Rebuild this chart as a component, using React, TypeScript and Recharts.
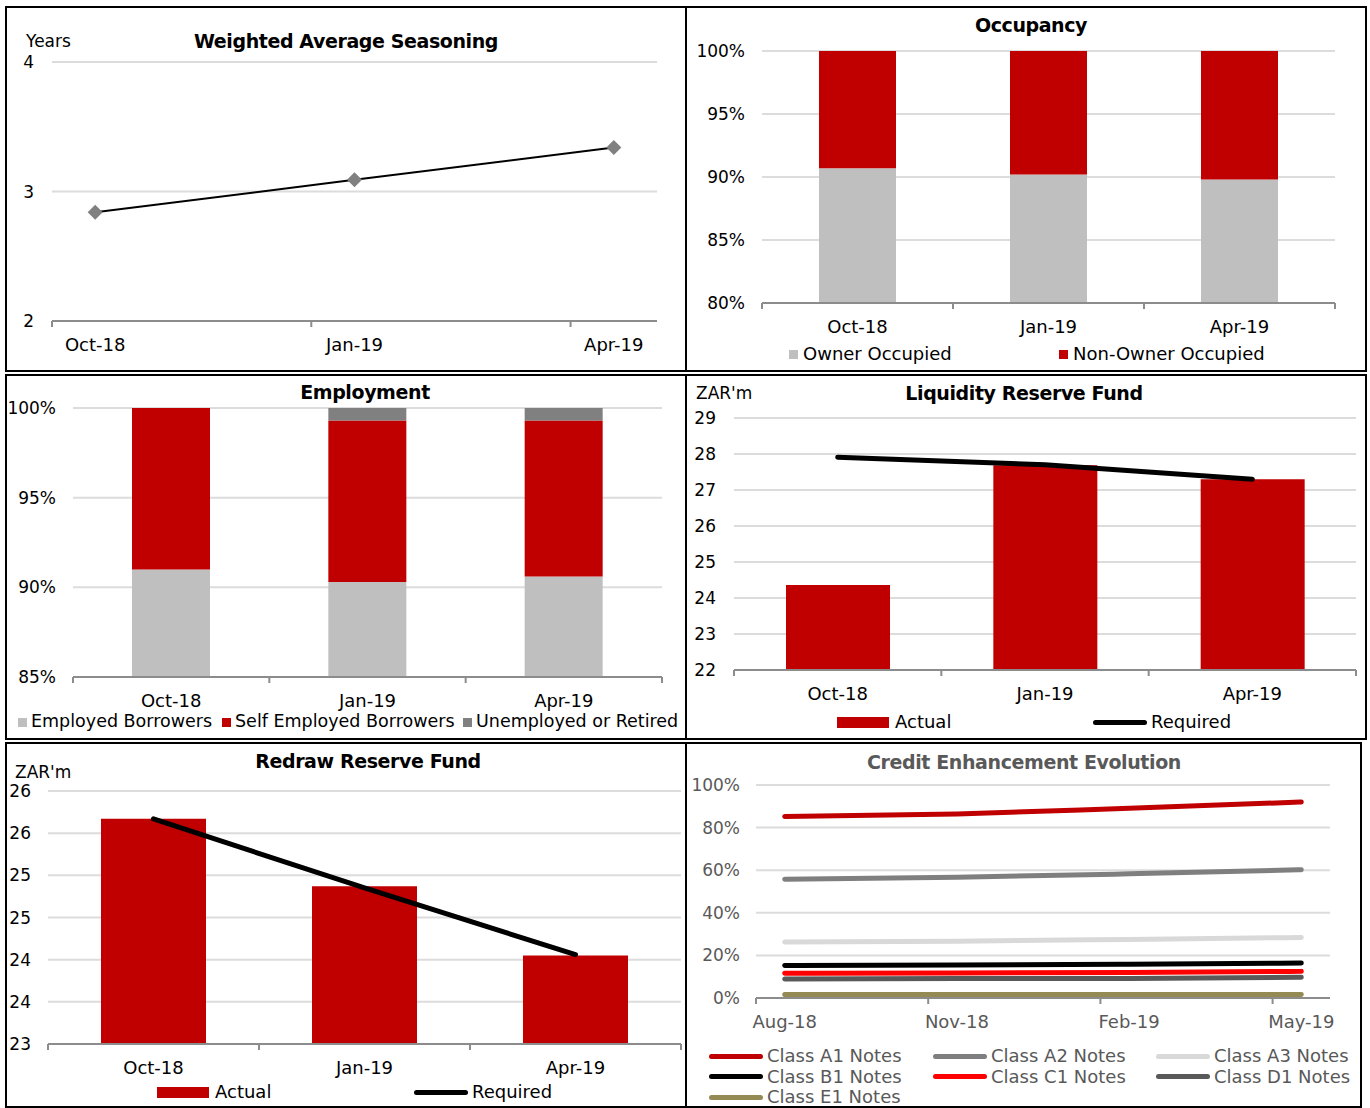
import React from 'react';
import { LineChart, Line, BarChart, Bar, ComposedChart, XAxis, YAxis, CartesianGrid } from 'recharts';

const FONT = "'DejaVu Sans', sans-serif";
const RED = '#c00000';
const LIGHT = '#bfbfbf';
const MID = '#808080';
const GRID = '#dcdcdc';
const AXIS = '#8c8c8c';
const DARK_TEXT = '#595959';
const LABEL_GAP = 17;

// Weighted average seasoning, in years
const wasDates = ['Oct-18', 'Jan-19', 'Apr-19'];
const wasMonths = [0, 3, 6];
const wasYears = [2.84, 3.09, 3.34];

// Reporting quarters for the pool stratifications
const quarters = ['Oct-18', 'Jan-19', 'Apr-19'];

// Occupancy (% of pool)
const ownerOccupied = [90.7, 90.2, 89.8];
const nonOwnerOccupied = [9.3, 9.8, 10.2];

// Employment (% of pool)
const employed = [91.0, 90.3, 90.6];
const selfEmployed = [9.0, 9.0, 8.7];
const unemployed = [0.0, 0.7, 0.7];

// Liquidity reserve fund, ZAR'm
const lrfActual = [24.36, 27.69, 27.3];
const lrfRequired = [27.91, 27.7, 27.3];

// Redraw reserve fund, ZAR'm
const rrfActual = [25.67, 24.87, 24.05];
const rrfRequired = [25.67, 24.85, 24.06];
const rrfTicks = [23, 23.5, 24, 24.5, 25, 25.5, 26];

// Credit enhancement per note class (%)
const ceDates = ['Aug-18', 'Nov-18', 'Feb-19', 'May-19'];
const ceMonths = [0, 3, 6, 9];
const ceA1 = [85.2, 86.4, 89.1, 92.0];
const ceA2 = [55.8, 56.7, 58.3, 60.2];
const ceA3 = [26.3, 26.7, 27.5, 28.4];
const ceB1 = [15.3, 15.5, 15.9, 16.4];
const ceC1 = [11.6, 11.7, 12.0, 12.5];
const ceD1 = [8.9, 9.1, 9.2, 9.7];
const ceE1 = [1.6, 1.6, 1.6, 1.7];

const ceSeries = [
  { key: 'a1', name: 'Class A1 Notes', color: RED, values: ceA1 },
  { key: 'a2', name: 'Class A2 Notes', color: '#7f7f7f', values: ceA2 },
  { key: 'a3', name: 'Class A3 Notes', color: '#d9d9d9', values: ceA3 },
  { key: 'b1', name: 'Class B1 Notes', color: '#000000', values: ceB1 },
  { key: 'c1', name: 'Class C1 Notes', color: '#ff0000', values: ceC1 },
  { key: 'd1', name: 'Class D1 Notes', color: '#595959', values: ceD1 },
  { key: 'e1', name: 'Class E1 Notes', color: '#948a54', values: ceE1 },
];

const wasData = wasMonths.map((m, i) => ({ m, years: wasYears[i] }));
const occData = quarters.map((date, i) => ({ date, owner: ownerOccupied[i], nonOwner: nonOwnerOccupied[i] }));
const empData = quarters.map((date, i) => ({
  date,
  employed: employed[i],
  selfEmployed: selfEmployed[i],
  unemployed: unemployed[i],
}));
const lrfData = quarters.map((date, i) => ({ date, actual: lrfActual[i], required: lrfRequired[i] }));
const rrfData = quarters.map((date, i) => ({ date, actual: rrfActual[i], required: rrfRequired[i] }));
const ceData = ceMonths.map((m, i) => {
  const row: Record<string, number> = { m };
  ceSeries.forEach((s) => (row[s.key] = s.values[i]));
  return row;
});

const axisLine = { stroke: AXIS, strokeWidth: 2 };
const yTick = (fill = '#000') => ({ fill, fontSize: 17, fontFamily: FONT });
const pct = (v: number) => `${v}%`;

// x-axis tick: label at the point, tick mark half a step to the left
// (and at the right edge too when the axis is a category band axis)
function makeTick(step: number, labels: string[] | null, fill: string, closeRight: boolean) {
  return (props: any) => {
    const { x, y, payload, index, visibleTicksCount } = props;
    const axisY = y - LABEL_GAP;
    const text = labels ? labels[index] : payload.value;
    return (
      <g>
        <line x1={x - step / 2} x2={x - step / 2} y1={axisY} y2={axisY + 6} stroke={AXIS} strokeWidth={2} />
        {closeRight && index === visibleTicksCount - 1 && (
          <line x1={x + step / 2} x2={x + step / 2} y1={axisY} y2={axisY + 6} stroke={AXIS} strokeWidth={2} />
        )}
        <text x={x} y={y} dy="0.71em" textAnchor="middle" fill={fill} fontSize={18} fontFamily={FONT}>
          {text}
        </text>
      </g>
    );
  };
}

function Panel({ left, top, width, height, children }: any) {
  return (
    <div style={{ position: 'absolute', left, top, width, height, boxSizing: 'border-box', border: '2px solid #000', background: '#fff' }}>
      <div style={{ position: 'absolute', left: -2, top: -2, width, height }}>{children}</div>
    </div>
  );
}

function Text({ x, y, children, center = false, bold = false, size = 18, color = '#000' }: any) {
  return (
    <div
      style={{
        position: 'absolute',
        left: x,
        top: y,
        transform: center ? 'translate(-50%, -50%)' : 'translate(0, -50%)',
        fontFamily: FONT,
        fontSize: size,
        fontWeight: bold ? 700 : 400,
        letterSpacing: bold ? -0.4 : 0,
        color,
        whiteSpace: 'nowrap',
        lineHeight: 1,
      }}
    >
      {children}
    </div>
  );
}

const Square = ({ x, y, color }: any) => (
  <div style={{ position: 'absolute', left: x, top: y - 4.5, width: 9, height: 9, background: color }} />
);
const BarSwatch = ({ x, y, color }: any) => (
  <div style={{ position: 'absolute', left: x, top: y - 5.5, width: 52, height: 11, background: color }} />
);
const LineSwatch = ({ x, y, color }: any) => (
  <div style={{ position: 'absolute', left: x, top: y - 2.5, width: 54, height: 5, borderRadius: 3, background: color }} />
);

const diamond = (props: any) => {
  const { cx, cy, index } = props;
  const r = 7.5;
  return <path key={index} d={`M${cx},${cy - r}L${cx + r},${cy}L${cx},${cy + r}L${cx - r},${cy}Z`} fill={MID} />;
};

export default function App() {
  return (
    <div style={{ position: 'absolute', left: 0, top: 0, width: 1370, height: 1108, background: '#fff' }}>
      {/* Weighted Average Seasoning */}
      <Panel left={5} top={6} width={682} height={366}>
        <LineChart width={682} height={366} data={wasData} margin={{ top: 56, right: 30, bottom: 21, left: 0 }}>
          <CartesianGrid vertical={false} stroke={GRID} strokeWidth={2} />
          <XAxis
            type="number"
            dataKey="m"
            domain={[-0.5, 6.5]}
            ticks={wasMonths}
            interval={0}
            height={30}
            tickLine={false}
            tickSize={0}
            tickMargin={LABEL_GAP}
            axisLine={axisLine}
            tick={makeTick(605 / 7, wasDates, '#000', false)}
          />
          <YAxis domain={[2, 4]} ticks={[2, 3, 4]} width={47} axisLine={false} tickLine={false} tickSize={0} tickMargin={18} tick={yTick()} />
          <Line dataKey="years" stroke="#000" strokeWidth={2} dot={diamond} isAnimationActive={false} />
        </LineChart>
        <Text x={21} y={35} size={17}>Years</Text>
        <Text x={341} y={35} center bold size={19}>Weighted Average Seasoning</Text>
      </Panel>

      {/* Occupancy */}
      <Panel left={685} top={6} width={682} height={366}>
        <BarChart width={682} height={366} data={occData} margin={{ top: 45, right: 32, bottom: 39, left: 0 }}>
          <CartesianGrid vertical={false} stroke={GRID} strokeWidth={2} />
          <XAxis dataKey="date" interval={0} height={30} tickLine={false} tickSize={0} tickMargin={LABEL_GAP} axisLine={axisLine} tick={makeTick(573 / 3, null, '#000', true)} />
          <YAxis domain={[80, 100]} ticks={[80, 85, 90, 95, 100]} allowDataOverflow width={77} axisLine={false} tickLine={false} tickSize={0} tickMargin={17} tickFormatter={pct} tick={yTick()} />
          <Bar dataKey="owner" stackId="occ" fill={LIGHT} barSize={77} isAnimationActive={false} />
          <Bar dataKey="nonOwner" stackId="occ" fill={RED} barSize={77} isAnimationActive={false} />
        </BarChart>
        <Text x={346} y={19} center bold size={19}>Occupancy</Text>
        <Square x={104} y={348} color={LIGHT} />
        <Text x={118} y={348}>Owner Occupied</Text>
        <Square x={374} y={348} color={RED} />
        <Text x={388} y={348}>Non-Owner Occupied</Text>
      </Panel>

      {/* Employment */}
      <Panel left={5} top={374} width={682} height={366}>
        <BarChart width={682} height={366} data={empData} margin={{ top: 34, right: 25, bottom: 33, left: 0 }}>
          <CartesianGrid vertical={false} stroke={GRID} strokeWidth={2} />
          <XAxis dataKey="date" interval={0} height={30} tickLine={false} tickSize={0} tickMargin={LABEL_GAP} axisLine={axisLine} tick={makeTick(589 / 3, null, '#000', true)} />
          <YAxis domain={[85, 100]} ticks={[85, 90, 95, 100]} allowDataOverflow width={68} axisLine={false} tickLine={false} tickSize={0} tickMargin={17} tickFormatter={pct} tick={yTick()} />
          <Bar dataKey="employed" stackId="emp" fill={LIGHT} barSize={78} isAnimationActive={false} />
          <Bar dataKey="selfEmployed" stackId="emp" fill={RED} barSize={78} isAnimationActive={false} />
          <Bar dataKey="unemployed" stackId="emp" fill={MID} barSize={78} isAnimationActive={false} />
        </BarChart>
        <Text x={360} y={18} center bold size={19}>Employment</Text>
        <Square x={13} y={348} color={LIGHT} />
        <Text x={26} y={348} size={17.5}>Employed Borrowers</Text>
        <Square x={217} y={348} color={RED} />
        <Text x={230} y={348} size={17.5}>Self Employed Borrowers</Text>
        <Square x={458} y={348} color={MID} />
        <Text x={471} y={348} size={17.5}>Unemployed or Retired</Text>
      </Panel>

      {/* Liquidity Reserve Fund */}
      <Panel left={685} top={374} width={682} height={366}>
        <ComposedChart width={682} height={366} data={lrfData} margin={{ top: 44, right: 11, bottom: 40, left: 0 }}>
          <CartesianGrid vertical={false} stroke={GRID} strokeWidth={2} />
          <XAxis dataKey="date" interval={0} height={30} tickLine={false} tickSize={0} tickMargin={LABEL_GAP} axisLine={axisLine} tick={makeTick(622 / 3, null, '#000', true)} />
          <YAxis domain={[22, 29]} ticks={[22, 23, 24, 25, 26, 27, 28, 29]} allowDataOverflow width={49} axisLine={false} tickLine={false} tickSize={0} tickMargin={18} tick={yTick()} />
          <Bar dataKey="actual" fill={RED} barSize={104} isAnimationActive={false} />
          <Line dataKey="required" type="linear" stroke="#000" strokeWidth={5} strokeLinecap="round" dot={false} isAnimationActive={false} />
        </ComposedChart>
        <Text x={11} y={19} size={17}>ZAR'm</Text>
        <Text x={339} y={19} center bold size={19}>Liquidity Reserve Fund</Text>
        <BarSwatch x={152} y={348} color={RED} />
        <Text x={210} y={348}>Actual</Text>
        <LineSwatch x={408} y={348} color="#000" />
        <Text x={466} y={348}>Required</Text>
      </Panel>

      {/* Redraw Reserve Fund */}
      <Panel left={5} top={742} width={682} height={366}>
        <ComposedChart width={682} height={366} data={rrfData} margin={{ top: 49, right: 6, bottom: 34, left: 0 }}>
          <CartesianGrid vertical={false} stroke={GRID} strokeWidth={2} />
          <XAxis dataKey="date" interval={0} height={30} tickLine={false} tickSize={0} tickMargin={LABEL_GAP} axisLine={axisLine} tick={makeTick(633 / 3, null, '#000', true)} />
          <YAxis domain={[23, 26]} ticks={rrfTicks} allowDataOverflow width={43} axisLine={false} tickLine={false} tickSize={0} tickMargin={17} tickFormatter={(v: number) => String(Math.round(v))} tick={yTick()} />
          <Bar dataKey="actual" fill={RED} barSize={105} isAnimationActive={false} />
          <Line dataKey="required" type="linear" stroke="#000" strokeWidth={5} strokeLinecap="round" dot={false} isAnimationActive={false} />
        </ComposedChart>
        <Text x={10} y={30} size={17}>ZAR'm</Text>
        <Text x={363} y={19} center bold size={19}>Redraw Reserve Fund</Text>
        <BarSwatch x={152} y={350} color={RED} />
        <Text x={210} y={350}>Actual</Text>
        <LineSwatch x={409} y={350} color="#000" />
        <Text x={467} y={350}>Required</Text>
      </Panel>

      {/* Credit Enhancement Evolution */}
      <Panel left={685} top={742} width={677} height={366}>
        <LineChart width={677} height={366} data={ceData} margin={{ top: 43, right: 32, bottom: 80, left: 0 }}>
          <CartesianGrid vertical={false} stroke={GRID} strokeWidth={2} />
          <XAxis
            type="number"
            dataKey="m"
            domain={[-0.5, 9.5]}
            ticks={ceMonths}
            interval={0}
            height={30}
            tickLine={false}
            tickSize={0}
            tickMargin={LABEL_GAP}
            axisLine={axisLine}
            tick={makeTick(574 / 10, ceDates, DARK_TEXT, false)}
          />
          <YAxis domain={[0, 100]} ticks={[0, 20, 40, 60, 80, 100]} width={71} axisLine={false} tickLine={false} tickSize={0} tickMargin={16} tickFormatter={pct} tick={yTick(DARK_TEXT)} />
          {ceSeries.map((s) => (
            <Line key={s.key} dataKey={s.key} type="monotone" stroke={s.color} strokeWidth={5} strokeLinecap="round" dot={false} isAnimationActive={false} />
          ))}
        </LineChart>
        <Text x={339} y={20} center bold size={19} color={DARK_TEXT}>Credit Enhancement Evolution</Text>
        {ceSeries.map((s, i) => {
          const col = i % 3;
          const row = Math.floor(i / 3);
          const lx = [24, 248, 471][col];
          const ly = 314 + row * 20.5;
          return (
            <React.Fragment key={s.key}>
              <LineSwatch x={lx} y={ly} color={s.color} />
              <Text x={lx + 58} y={ly} color={DARK_TEXT}>{s.name}</Text>
            </React.Fragment>
          );
        })}
      </Panel>
    </div>
  );
}
